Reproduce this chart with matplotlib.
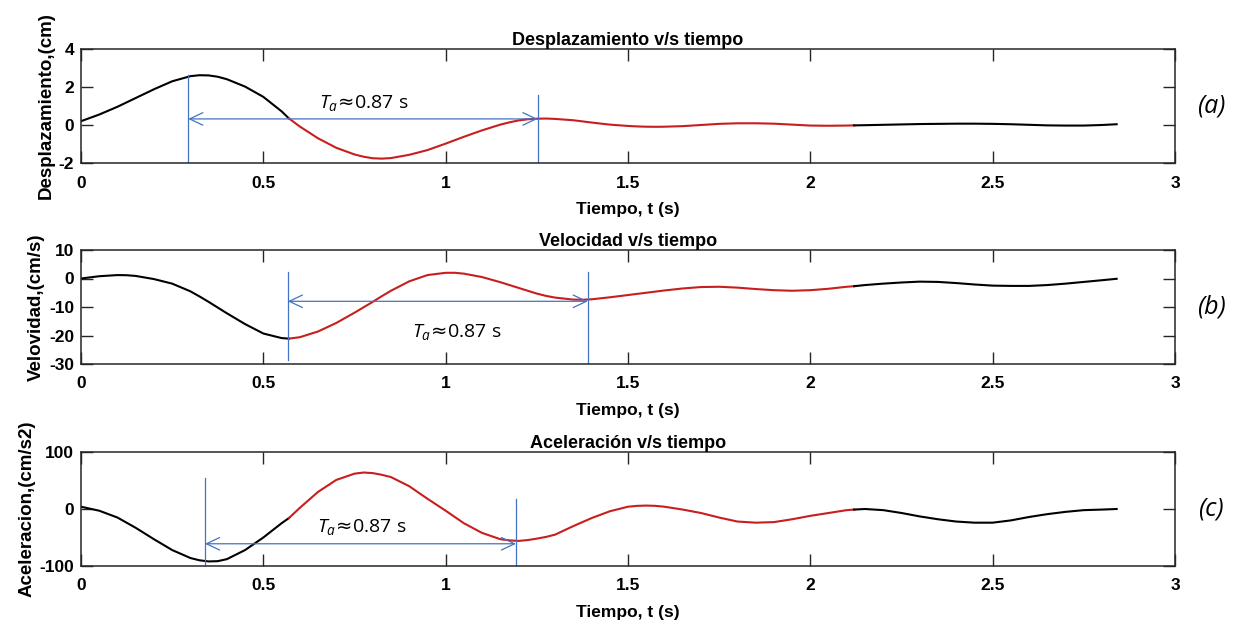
import numpy as np
import matplotlib
matplotlib.use('Agg')
import matplotlib.pyplot as plt

plt.rcParams['font.family'] = ['Liberation Sans', 'DejaVu Sans']
plt.rcParams['axes.unicode_minus'] = False
plt.rcParams['mathtext.fontset'] = 'custom'
plt.rcParams['mathtext.it'] = 'Open Sans:italic'
plt.rcParams['mathtext.rm'] = 'Open Sans'
plt.rcParams['mathtext.sf'] = 'DejaVu Sans'

# -------------------------------------------------------------------------
# Data
# -------------------------------------------------------------------------
tiempo = [0.00, 0.05, 0.10, 0.125, 0.15, 0.20, 0.25, 0.30, 0.325, 0.35,
          0.375, 0.40, 0.45, 0.50, 0.55, 0.57, 0.60, 0.65, 0.70, 0.75,
          0.775, 0.80, 0.825, 0.85, 0.90, 0.95, 1.00, 1.025, 1.05, 1.10,
          1.15, 1.175, 1.20, 1.225, 1.25, 1.275, 1.30, 1.35, 1.375, 1.40,
          1.45, 1.50, 1.525, 1.55, 1.575, 1.60, 1.65, 1.70, 1.75, 1.80,
          1.85, 1.90, 1.95, 2.00, 2.05, 2.10, 2.12, 2.15, 2.20, 2.25,
          2.30, 2.35, 2.40, 2.45, 2.50, 2.55, 2.60, 2.65, 2.70, 2.75,
          2.80, 2.84]

desplazamiento = [0.20, 0.55, 0.96, 1.19, 1.42, 1.88, 2.30, 2.57, 2.62, 2.61,
                  2.54, 2.41, 2.02, 1.48, 0.72, 0.35, -0.08, -0.70, -1.20, -1.55,
                  -1.67, -1.75, -1.77, -1.74, -1.57, -1.32, -0.98, -0.80, -0.62, -0.28,
                  0.02, 0.14, 0.24, 0.30, 0.33, 0.34, 0.32, 0.25, 0.19, 0.13,
                  0.02, -0.05, -0.075, -0.09, -0.095, -0.09, -0.06, 0.00, 0.06, 0.09,
                  0.09, 0.07, 0.02, -0.03, -0.04, -0.03, -0.02, -0.01, 0.01, 0.03,
                  0.05, 0.06, 0.07, 0.07, 0.06, 0.04, 0.01, -0.02, -0.03, -0.03,
                  0.00, 0.04]

velocidad = [0.0, 0.8, 1.2, 1.15, 0.9, -0.2, -1.8, -4.5, -6.3, -8.2,
             -10.2, -12.2, -16.0, -19.3, -20.9, -21.1, -20.6, -18.6, -15.6, -12.0,
             -10.1, -8.2, -6.2, -4.3, -1.0, 1.2, 2.0, 2.0, 1.7, 0.5,
             -1.3, -2.3, -3.3, -4.3, -5.3, -6.1, -6.7, -7.4, -7.45, -7.3,
             -6.6, -5.8, -5.4, -5.0, -4.6, -4.2, -3.5, -3.0, -2.9, -3.2,
             -3.7, -4.1, -4.3, -4.1, -3.6, -2.9, -2.7, -2.3, -1.8, -1.4,
             -1.1, -1.2, -1.6, -2.1, -2.5, -2.6, -2.6, -2.3, -1.8, -1.2,
             -0.6, -0.1]

aceleracion = [4, -3, -15, -24, -33, -53, -72, -86, -90, -92,
               -91.5, -88, -72, -50, -25, -16, 2, 30, 51, 62,
               64, 63, 60, 56, 40, 18, -3, -14, -25, -42,
               -53, -55, -56, -54.5, -52, -49, -45, -30, -23, -16,
               -4, 4, 5.5, 6, 5.5, 4, -1, -7, -15, -22,
               -24, -23, -18, -12, -7, -2, -1, 0, -2, -7,
               -13, -18, -22, -24, -24, -20, -14, -9, -5, -2,
               -1, 0]

# strong-motion window drawn in red
T_RED_START = 0.57
T_RED_END = 2.12

xticks = [0, 0.5, 1, 1.5, 2, 2.5, 3]
xtick_labels = ['0', '0.5', '1', '1.5', '2', '2.5', '3']

# period marks: x left, x right, arrow y, top of left line, top of right line, bottom of left line, text x, text y
marca_a = [0.294, 1.252, 0.32, 2.63, 1.58, -2.0, 0.776, 1.14]
marca_b = [0.567, 1.39, -8.0, 2.4, 2.4, -28.6, 1.03, -18.7]
marca_c = [0.34, 1.193, -61.0, 54.0, 17.0, -100.0, 0.77, -32.0]

RED = '#c81e1e'
BLUE = '#4472c4'
FRAME = '#262626'


# -------------------------------------------------------------------------
# One panel
# -------------------------------------------------------------------------
def draw_panel(ax, values, ylim, yticks, ylabel, title, tag, marca):
    t = np.array(tiempo)
    v = np.array(values)
    first = t <= T_RED_START
    red = (t >= T_RED_START) & (t <= T_RED_END)
    last = t >= T_RED_END
    ax.plot(t[first], v[first], color='black', lw=1.5)
    ax.plot(t[red], v[red], color=RED, lw=1.5)
    ax.plot(t[last], v[last], color='black', lw=1.5)

    ax.set_xlim(0, 3)
    ax.set_ylim(*ylim)
    ax.set_xticks(xticks)
    ax.set_xticklabels(xtick_labels, fontweight='bold')
    ax.set_yticks(yticks)
    ax.set_yticklabels([str(y) for y in yticks], fontweight='bold')
    ax.tick_params(direction='in', length=8.5, width=1, top=True, right=True,
                   labelsize=12.5, color=FRAME, labelcolor='black')
    ax.tick_params(axis='x', pad=9)
    ax.tick_params(axis='y', pad=5)
    for s in ax.spines.values():
        s.set_color(FRAME)
        s.set_linewidth(1.1)

    ax.set_title(title, fontsize=13, fontweight='bold', pad=3)
    ax.set_xlabel('Tiempo, t (s)', fontsize=12.5, fontweight='bold', labelpad=8)
    ax.set_ylabel(ylabel, fontsize=13.5, fontweight='bold', labelpad=3)

    x0, x1, ya, top0, top1, bot0, tx, ty = marca
    ax.plot([x0, x0], [top0, bot0], color=BLUE, lw=0.9)
    ax.plot([x1, x1], [top1, ylim[0]], color=BLUE, lw=0.9)
    ax.annotate('', xy=(x1, ya), xytext=(x0, ya),
                arrowprops=dict(arrowstyle='<->,head_length=0.95,head_width=0.45',
                                color=BLUE, lw=0.9, shrinkA=0, shrinkB=0,
                                mutation_scale=10))
    ax.text(tx, ty, r'$T_a\!\mathsf{\approx}\!$0.87 s', fontsize=14,
            family=['Open Sans', 'DejaVu Sans'], ha='center', va='center')
    ax.text(1.033, 0.5, tag, transform=ax.transAxes, fontsize=18, style='italic',
            family=['Open Sans', 'DejaVu Sans'], ha='center', va='center')


fig = plt.figure(figsize=(12.34, 6.24), dpi=100)
W, H = 1234.0, 624.0
ax1 = fig.add_axes([81 / W, 1 - 163 / H, 1094 / W, 114 / H])
ax2 = fig.add_axes([81 / W, 1 - 364 / H, 1094 / W, 114 / H])
ax3 = fig.add_axes([81 / W, 1 - 566 / H, 1094 / W, 114 / H])

draw_panel(ax1, desplazamiento, (-2, 4), [-2, 0, 2, 4], 'Desplazamiento,(cm)',
           'Desplazamiento v/s tiempo', '(a)', marca_a)
draw_panel(ax2, velocidad, (-30, 10), [-30, -20, -10, 0, 10], 'Velovidad,(cm/s)',
           'Velocidad v/s tiempo', '(b)', marca_b)
draw_panel(ax3, aceleracion, (-100, 100), [-100, 0, 100], 'Aceleracion,(cm/s2)',
           'Aceleración v/s tiempo', '(c)', marca_c)

fig.savefig('out.png', dpi=100, facecolor='white')
